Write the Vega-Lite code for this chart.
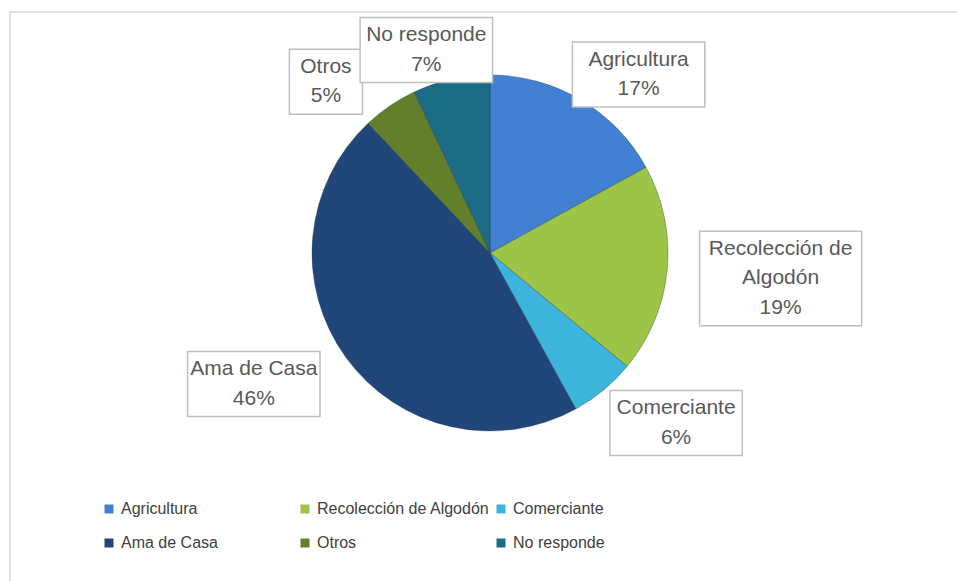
{
  "$schema": "https://vega.github.io/schema/vega-lite/v6.json",
  "width": 951,
  "height": 573,
  "autosize": {"type": "none"},
  "padding": {"left": 10, "top": 12, "right": -4, "bottom": -4},
  "background": "#ffffff",
  "config": {
    "view": {"stroke": "#d9d9d9", "strokeWidth": 1.5},
    "font": "Liberation Sans"
  },
  "data": {
    "values": [
      {"cat": "Agricultura", "value": 17},
      {"cat": "Recolección de Algodón", "value": 19},
      {"cat": "Comerciante", "value": 6},
      {"cat": "Ama de Casa", "value": 46},
      {"cat": "Otros", "value": 5},
      {"cat": "No responde", "value": 7}
    ]
  },
  "transform": [
    {"window": [{"op": "row_number", "as": "i"}]},
    {"window": [{"op": "sum", "field": "value", "as": "cum"}], "sort": [{"field": "i"}], "frame": [null, 0]},
    {"joinaggregate": [{"op": "sum", "field": "value", "as": "total"}]},
    {"calculate": "2*PI*(datum.cum - datum.value/2)/datum.total", "as": "mid"},
    {"calculate": "format(datum.value/datum.total, '.0%')", "as": "pct"},
    {"calculate": "length(datum.cat) > 14", "as": "long"},
    {"calculate": "datum.long ? substring(datum.cat, 0, lastindexof(datum.cat, ' ')) + '\\n' + substring(datum.cat, lastindexof(datum.cat, ' ') + 1) : datum.cat", "as": "name"},
    {"calculate": "datum.name + '\\n' + datum.pct", "as": "lab"},
    {"calculate": "datum.long ? 3 : 2", "as": "nlines"},
    {"calculate": "datum.long ? lastindexof(datum.cat, ' ') : length(datum.cat)", "as": "maxlen"},
    {"calculate": "1.64*sin(datum.mid)", "as": "lx"},
    {"calculate": "1.2*cos(datum.mid) - 0.03", "as": "ly"},
    {"calculate": "datum.ly + (datum.nlines - 1)*14.75/178", "as": "ty"},
    {"calculate": "(9.9*datum.maxlen + 23.5)/178", "as": "bw"},
    {"calculate": "(29.5*datum.nlines + 6)/178", "as": "bh"},
    {"calculate": "datum.lx - datum.bw/2", "as": "bx1"},
    {"calculate": "datum.lx + datum.bw/2", "as": "bx2"},
    {"calculate": "datum.ly - datum.bh/2", "as": "by1"},
    {"calculate": "datum.ly + datum.bh/2", "as": "by2"}
  ],
  "layer": [
    {
      "mark": {"type": "arc", "outerRadius": 178, "stroke": "#1f2f3f", "strokeOpacity": 0.35, "strokeWidth": 1},
      "encoding": {
        "x": {"datum": 0, "type": "quantitative", "scale": {"domain": [-2.6966, 2.6461], "nice": false, "zero": false}, "axis": null},
        "y": {"datum": 0, "type": "quantitative", "scale": {"domain": [-1.8652, 1.3539], "nice": false, "zero": false}, "axis": null},
        "theta": {"field": "value", "type": "quantitative", "stack": true},
        "order": {"field": "i", "type": "quantitative"},
        "color": {
          "field": "cat",
          "type": "nominal",
          "sort": null,
          "scale": {
            "domain": ["Agricultura", "Recolección de Algodón", "Comerciante", "Ama de Casa", "Otros", "No responde"],
            "range": ["#4281d1", "#9cc447", "#3db4dc", "#21477a", "#627f2b", "#1b6c85"]
          },
          "legend": {
            "orient": "none",
            "legendX": 91,
            "legendY": 489,
            "direction": "horizontal",
            "columns": 3,
            "title": null,
            "symbolType": "square",
            "symbolSize": 81,
            "symbolStrokeWidth": 0,
            "symbolOpacity": 1,
            "labelFont": "Liberation Sans",
            "labelFontSize": 16,
            "labelColor": "#404040",
            "labelOffset": 4,
            "labelLimit": 400,
            "columnPadding": 3,
            "rowPadding": 18,
            "gridAlign": "all"
          }
        }
      }
    },
    {
      "mark": {"type": "rect", "fill": "#ffffff", "stroke": "#bfbfbf", "strokeWidth": 1.5},
      "encoding": {
        "x": {"field": "bx1", "type": "quantitative", "scale": {"domain": [-2.6966, 2.6461], "nice": false, "zero": false}, "axis": null},
        "x2": {"field": "bx2"},
        "y": {"field": "by1", "type": "quantitative", "scale": {"domain": [-1.8652, 1.3539], "nice": false, "zero": false}, "axis": null},
        "y2": {"field": "by2"}
      }
    },
    {
      "mark": {"type": "text", "font": "Liberation Sans", "fontSize": 21, "lineHeight": 29.5, "lineBreak": "\n", "fill": "#595959", "align": "center", "baseline": "middle"},
      "encoding": {
        "x": {"field": "lx", "type": "quantitative", "scale": {"domain": [-2.6966, 2.6461], "nice": false, "zero": false}, "axis": null},
        "y": {"field": "ty", "type": "quantitative", "scale": {"domain": [-1.8652, 1.3539], "nice": false, "zero": false}, "axis": null},
        "text": {"field": "lab", "type": "nominal"}
      }
    }
  ]
}
